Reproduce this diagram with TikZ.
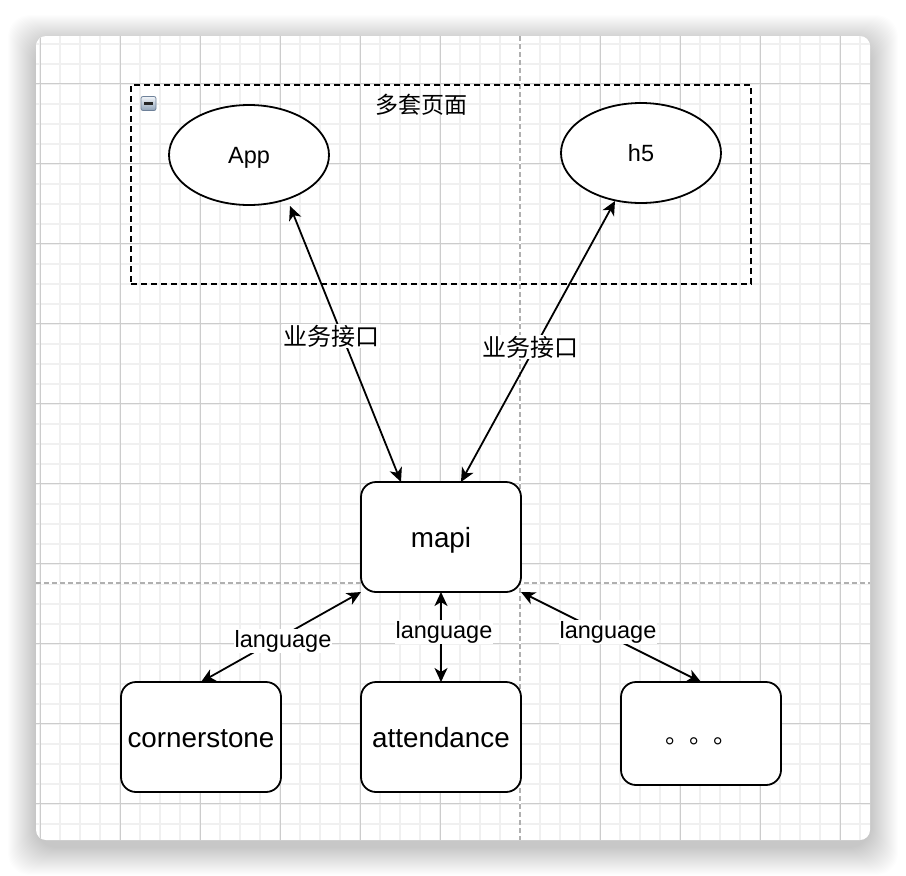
\documentclass[tikz,border=0pt]{standalone}
\usepackage{fontspec}
\setmainfont{Liberation Sans}
\newfontfamily\cjk{Noto Sans CJK SC}
\usetikzlibrary{arrows.meta,calc,shapes.geometric}
\definecolor{minorgrid}{HTML}{F0F0F0}
\definecolor{majorgrid}{HTML}{CCCCCC}
\definecolor{pagebreak}{HTML}{B0B0B0}
\definecolor{togtop}{HTML}{F2F5F9}
\definecolor{togbot}{HTML}{8FA2B8}
\definecolor{togdraw}{HTML}{6E8199}
\tikzset{
  minorline/.style={draw=minorgrid,line width=2pt},
  majorline/.style={draw=majorgrid,line width=1pt},
  breakline/.style={draw=pagebreak,line width=1.3pt,dash pattern=on 5pt off 3pt},
  boxnode/.style={draw=black,fill=white,line width=1.8pt,rounded corners=15pt,minimum width=160pt,minimum height=110pt,inner sep=0pt,outer sep=0pt,font=\fontsize{27.8}{32}\selectfont,text height=20.5pt,text depth=0pt},
  ellnode/.style={ellipse,draw=black,fill=white,line width=1.8pt,minimum width=160pt,minimum height=100pt,inner sep=0pt,outer sep=0pt,font=\fontsize{23.5}{27}\selectfont,text height=16.8pt,text depth=0pt},
  groupnode/.style={draw=black,line width=1.6pt,dash pattern=on 6pt off 4pt,minimum width=620pt,minimum height=199pt,inner sep=0pt,outer sep=0pt},
  lbl/.style={fill=white,inner sep=1pt,font=\fontsize{23.5}{27}\selectfont,text height=17pt,text depth=5pt},
  cjklbl/.style={fill=white,inner sep=1pt,font=\cjk\fontsize{24}{28}\selectfont},
  conn/.style={line width=1.8pt,{Stealth[length=14pt,width=13pt,inset=4pt]}-{Stealth[length=14pt,width=13pt,inset=4pt]}},
  togglebox/.style={draw=togdraw,line width=0.8pt,rounded corners=2pt,top color=togtop,bottom color=togbot,minimum width=15pt,minimum height=14pt,inner sep=0pt}
}
\begin{document}
\begin{tikzpicture}[x=1pt,y=-1pt]
\useasboundingbox (0,0) rectangle (906,876);
% shadow
\foreach \i in {1,...,28}
  \fill[black,opacity=0.008,rounded corners=22pt] (36-\i,36-\i+7) rectangle (870+\i,840+\i+7);
% card
\fill[white,rounded corners=10pt] (36,36) rectangle (870,840);
\begin{scope}
  \clip[rounded corners=10pt] (36,36) rectangle (870,840);
  \foreach \x in {40,60,...,860} \draw[minorline] (\x,36) -- (\x,840);
  \foreach \y in {43.5,63.5,...,843.5} \draw[minorline] (36,\y) -- (870,\y);
  \foreach \x in {40,120,...,840} \draw[majorline] (\x,36) -- (\x,840);
  \foreach \y in {83.5,163.5,...,803.5} \draw[majorline] (36,\y) -- (870,\y);
  \draw[white,line width=2pt] (520,36) -- (520,840);
  \draw[white,line width=2pt] (36,583) -- (870,583);
  \draw[breakline] (520,36) -- (520,840);
  \draw[breakline] (36,583) -- (870,583);
\end{scope}
% group
\node[groupnode] (grp) at (441,184.5) {};
\node[font=\cjk\fontsize{23}{27}\selectfont,inner sep=0pt] (title) at (421,105) {多套页面};
\node[togglebox] (tog) at (148.5,103.5) {};
\draw[line width=2.4pt,black!85] ($(tog.center)+(-4.5,0)$) -- ($(tog.center)+(4.5,0)$);
% nodes
\node[ellnode] (app) at (249,155) {App};
\node[ellnode] (h5) at (641,153) {h5};
\node[boxnode] (mapi) at (441,537) {mapi};
\node[boxnode] (corner) at (201,737) {cornerstone};
\node[boxnode] (att) at (441,737) {attendance};
\node[boxnode,minimum height=103pt,font=\cjk\fontsize{24}{28}\selectfont,text height=20pt] (more) at (701,733.5) {。。。};
% connectors
\draw[conn] ($(mapi.north west)+(40,0)$) -- ($(app.center)+(41,51)$);
\node[cjklbl] (l1) at (331,336) {业务接口};
\draw[conn] ($(mapi.north west)+(100,0)$) -- ($(h5.center)+(-26,48)$);
\node[cjklbl] (l2) at (530,347) {业务接口};
\draw[conn] (mapi.south west) -- (corner.north);
\node[lbl] (l3) at (283,641) {language};
\draw[conn] (mapi.south) -- (att.north);
\node[lbl] (l4) at (444,632) {language};
\draw[conn] (mapi.south east) -- (more.north);
\node[lbl] (l5) at (608,632) {language};
\end{tikzpicture}
\end{document}
